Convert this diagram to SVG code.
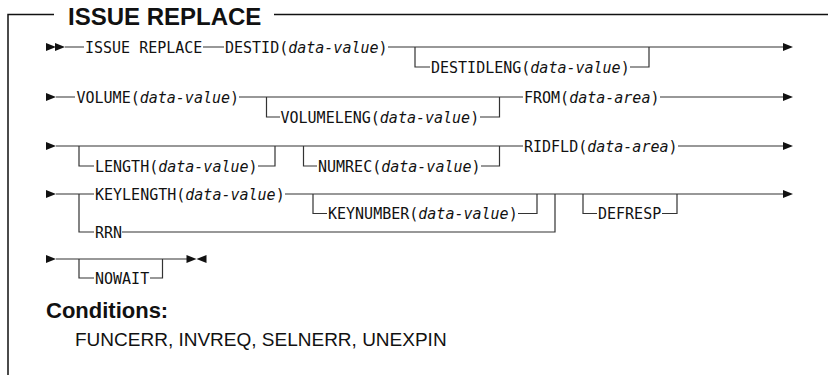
<svg xmlns="http://www.w3.org/2000/svg" width="828" height="375" viewBox="0 0 828 375">
<style>
.m{font-family:"DejaVu Sans Mono",monospace;font-size:15px;fill:#111}
.i{font-style:italic}
.ln{fill:none;stroke:#333;stroke-width:1.2}
.bd{fill:none;stroke:#111;stroke-width:1.5}
.ah{fill:#111}
.t{font-family:"Liberation Sans",Arial,sans-serif;font-weight:bold;font-size:24px;fill:#111}
.h{font-family:"Liberation Sans",Arial,sans-serif;font-weight:bold;font-size:22px;fill:#111}
.c{font-family:"Liberation Sans",Arial,sans-serif;font-size:19px;fill:#111}
</style>
<defs>
<path id="ar" class="ah" d="M0,-4 L10,0 L0,4 Z"/>
<path id="al" class="ah" d="M0,0 L10,-4 L10,4 Z"/>
</defs>
<g id="frame">
<path class="bd" d="M8,375 V14.5 H54 M274,14.5 H828"/>
<text class="t" x="68" y="25">ISSUE REPLACE</text>
</g>
<g id="connectors">
<use href="#ar" x="46" y="47"/><use href="#ar" x="55" y="47"/>
<path class="ln" d="M65,47 H84 M203,47 H224 M388,47 H783 M415,47 V67 H430 M630,67 H649 V47"/>
<use href="#ar" x="783" y="47"/>
<use href="#ar" x="46" y="97"/>
<path class="ln" d="M56,97 H75 M239,97 H523 M266.5,97 V117 H280 M480,117 H499.5 V97 M660,97 H783"/>
<use href="#ar" x="783" y="97"/>
<use href="#ar" x="46" y="146"/>
<path class="ln" d="M56,146 H523 M79,146 V166 H94 M258,166 H275 V146 M303.5,146 V166 H317 M481,166 H499.5 V146 M678,146 H783"/>
<use href="#ar" x="783" y="146"/>
<use href="#ar" x="46" y="194"/>
<path class="ln" d="M56,194 H94 M285,194 H783 M79,194 V232 H94 M122,232 H555 V194 M313,194 V213.5 H327 M518,213.5 H537 V194 M583,194 V213.5 H597 M662,213.5 H677 V194"/>
<use href="#ar" x="783" y="194"/>
<use href="#ar" x="46" y="259"/>
<path class="ln" d="M56,259 H187 M79,259 V278 H94 M150,278 H162.5 V259"/>
<use href="#ar" x="186.5" y="259"/><use href="#al" x="196.5" y="259"/>
</g>
<g id="n-issue"><text class="m" x="85" y="52.5">ISSUE REPLACE</text></g>
<g id="n-destid"><text class="m" x="225" y="52.5">DESTID(<tspan class="i">data-value</tspan>)</text></g>
<g id="n-destidleng"><text class="m" x="431" y="72.5">DESTIDLENG(<tspan class="i">data-value</tspan>)</text></g>
<g id="n-volume"><text class="m" x="76.5" y="102.5">VOLUME(<tspan class="i">data-value</tspan>)</text></g>
<g id="n-volumeleng"><text class="m" x="280.5" y="122.5">VOLUMELENG(<tspan class="i">data-value</tspan>)</text></g>
<g id="n-from"><text class="m" x="524" y="102.5">FROM(<tspan class="i">data-area</tspan>)</text></g>
<g id="n-length"><text class="m" x="95" y="171.5">LENGTH(<tspan class="i">data-value</tspan>)</text></g>
<g id="n-numrec"><text class="m" x="318" y="171.5">NUMREC(<tspan class="i">data-value</tspan>)</text></g>
<g id="n-ridfld"><text class="m" x="524" y="151.5">RIDFLD(<tspan class="i">data-area</tspan>)</text></g>
<g id="n-keylength"><text class="m" x="95" y="199.5">KEYLENGTH(<tspan class="i">data-value</tspan>)</text></g>
<g id="n-keynumber"><text class="m" x="328" y="219">KEYNUMBER(<tspan class="i">data-value</tspan>)</text></g>
<g id="n-rrn"><text class="m" x="95" y="237.5">RRN</text></g>
<g id="n-defresp"><text class="m" x="598" y="219">DEFRESP</text></g>
<g id="n-nowait"><text class="m" x="95" y="283.5">NOWAIT</text></g>
<g id="conditions">
<text class="h" x="46" y="318">Conditions:</text>
<text class="c" x="75" y="346">FUNCERR, INVREQ, SELNERR, UNEXPIN</text>
</g>
</svg>
